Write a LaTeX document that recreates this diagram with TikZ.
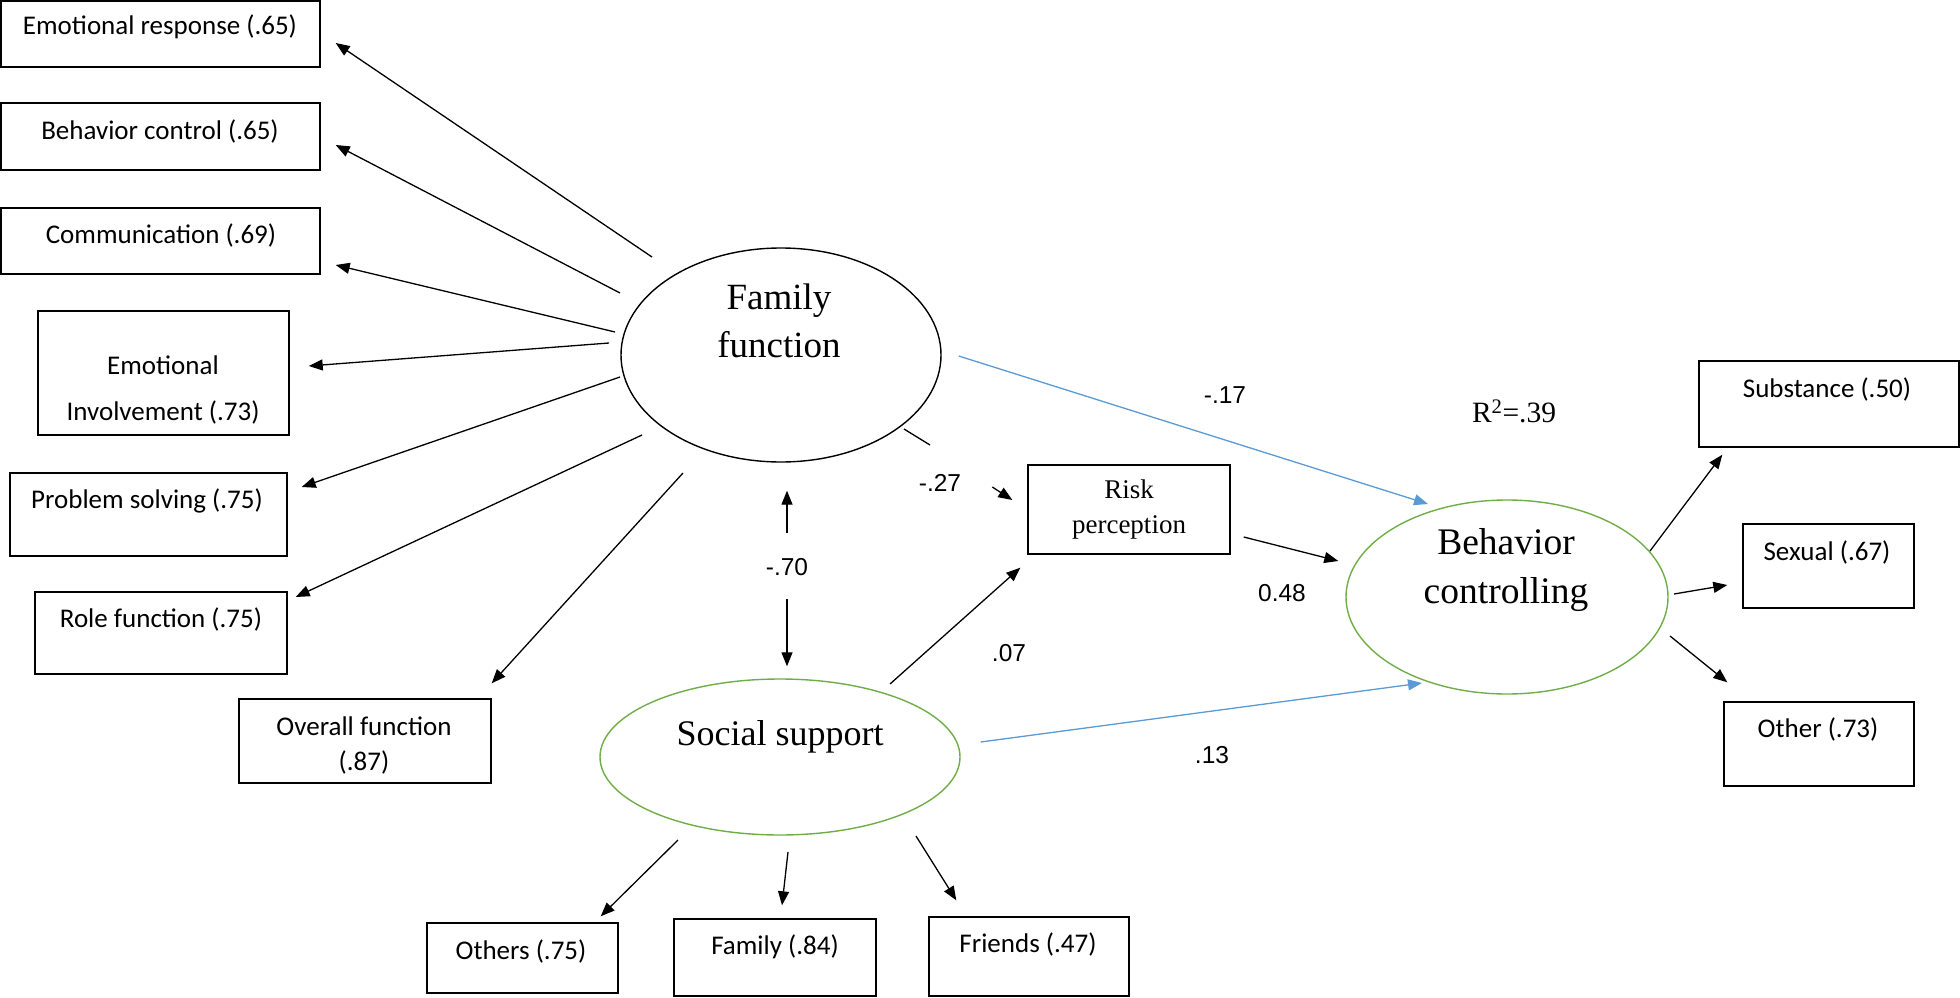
\documentclass[tikz,border=0pt]{standalone}
\usepackage{fontspec}
\setmainfont{Liberation Serif}
\newfontfamily\calfont{Carlito}
\newfontfamily\arifont{Liberation Sans}
\usetikzlibrary{arrows.meta,calc,shapes.geometric}
\definecolor{lgreen}{HTML}{70AD47}
\definecolor{lblue}{HTML}{5B9BD5}
\begin{document}
\begin{tikzpicture}[x=1pt,y=-1pt,
 box/.style={draw, rectangle, inner sep=0pt, line width=1.4pt},
 itxt/.style={font=\calfont\fontsize{27}{35}\selectfont, inner sep=0pt, align=center},
 lat/.style={draw, ellipse, inner sep=0pt, line width=1.4pt},
 glat/.style={lat, draw=lgreen},
 ltxt/.style={font=\fontsize{36}{48}\selectfont, align=center, inner sep=0pt},
 coef/.style={font=\arifont\fontsize{24.5}{28}\selectfont, inner sep=0pt},
 arr/.style={-{Triangle[length=14pt,width=11pt]}, line width=1.3pt},
 barr/.style={arr, draw=lblue, fill=lblue},
 plain/.style={line width=1.3pt},
]
\useasboundingbox (0,0) rectangle (1960,998);

% ---- indicator boxes (Family function) ----
\node[box, minimum width=319pt, minimum height=66pt] (mer) at (160.5,34) {};
\node[itxt] (mer-t) at (160,27) {Emotional response (.65)};
\node[box, minimum width=319pt, minimum height=67pt] (mbc) at (160.5,136.5) {};
\node[itxt] (mbc-t) at (160,131) {Behavior control (.65)};
\node[box, minimum width=319pt, minimum height=66pt] (mcom) at (160.5,241) {};
\node[itxt] (mcom-t) at (161,235) {Communication (.69)};
\node[box, minimum width=251pt, minimum height=124pt] (mei) at (163.5,373) {};
\node[itxt, font=\calfont\fontsize{27}{46}\selectfont] (mei-t) at (163,390) {Emotional\\Involvement (.73)};
\node[box, minimum width=277pt, minimum height=83pt] (mps) at (148.5,514.5) {};
\node[itxt] (mps-t) at (147,501) {Problem solving (.75)};
\node[box, minimum width=252pt, minimum height=82pt] (mrf) at (161,633) {};
\node[itxt] (mrf-t) at (161,619) {Role function (.75)};
\node[box, minimum width=252pt, minimum height=84pt] (mof) at (365,741) {};
\node[itxt] (mof-t) at (364,745.5) {Overall function\\(.87)};

% ---- latent variables ----
\node[lat, minimum width=320pt, minimum height=214pt] (ff) at (781,355) {};
\node[ltxt, font=\fontsize{37}{48}\selectfont] (ff-t) at (779,321) {Family\\function};
\node[glat, minimum width=360pt, minimum height=156pt] (ss) at (780,757) {};
\node[ltxt] (ss-t) at (780,737) {Social support};
\node[glat, minimum width=322pt, minimum height=194pt] (bcl) at (1507,597) {};
\node[ltxt, font=\fontsize{37.5}{49}\selectfont] (bcl-t) at (1506,570) {Behavior\\controlling};
\node[box, minimum width=202pt, minimum height=89pt, font=\fontsize{27}{35}\selectfont, align=center] (risk) at (1129,509.5) {Risk\\perception};
\node[font=\fontsize{29.5}{32}\selectfont, inner sep=0pt] (r2) at (1514,411) {R\textsuperscript{2}=.39};

% ---- outcome boxes ----
\node[box, minimum width=260pt, minimum height=86pt] (msub) at (1829,404) {};
\node[itxt] (msub-t) at (1827,389) {Substance (.50)};
\node[box, minimum width=171pt, minimum height=84pt] (msex) at (1828.5,566) {};
\node[itxt] (msex-t) at (1827,552) {Sexual (.67)};
\node[box, minimum width=190pt, minimum height=84pt] (moth) at (1819,744) {};
\node[itxt] (moth-t) at (1818,729) {Other (.73)};

% ---- social support boxes ----
\node[box, minimum width=191pt, minimum height=70pt] (mothers) at (522.5,958) {};
\node[itxt] (mothers-t) at (521,951) {Others (.75)};
\node[box, minimum width=202pt, minimum height=77pt] (mfam) at (775,957.5) {};
\node[itxt] (mfam-t) at (775,947) {Family (.84)};
\node[box, minimum width=200pt, minimum height=79pt] (mfri) at (1029,956.5) {};
\node[itxt] (mfri-t) at (1028,944) {Friends (.47)};

% ---- loadings of Family function ----
\draw[arr] ($(ff.center)+(-129,-98)$) -- ($(mer.east)+(15,9)$);
\draw[arr] ($(ff.center)+(-161,-62)$) -- ($(mbc.east)+(15,8.5)$);
\draw[arr] ($(ff.center)+(-166,-23)$) -- ($(mcom.east)+(15,24)$);
\draw[arr] ($(ff.center)+(-172,-12)$) -- ($(mei.east)+(19,-7)$);
\draw[arr] ($(ff.center)+(-161,22)$) -- ($(mps.east)+(14,-27.5)$);
\draw[arr] ($(ff.center)+(-139,80)$) -- ($(mrf.east)+(8,-36)$);
\draw[arr] ($(ff.center)+(-98,118)$) -- ($(mof.north east)+(0,-15)$);

% ---- structural paths ----
\draw[plain] ($(ff.center)+(123,74)$) -- ($(ff.center)+(149,90)$);
\draw[arr] ($(risk.west)+(-35,-22.5)$) -- ($(risk.west)+(-15,-9.5)$);
\node[coef] (c27) at (940,483) {-.27};

\draw[arr] ($(ff.south)+(6,70)$) -- ($(ff.south)+(6,28)$);
\draw[arr] ($(ss.north)+(7,-79)$) -- ($(ss.north)+(7,-12)$);
\node[coef] (c70) at (787,567) {-.70};

\draw[arr] ($(ss.center)+(110,-73)$) -- ($(risk.south west)+(-7,13)$);
\node[coef] (c07) at (1009,653) {.07};

\draw[arr] ($(risk.east)+(13,27.5)$) -- ($(bcl.west)+(-7,-36)$);
\node[coef] (c48) at (1282,593) {0.48};

\draw[barr] ($(ff.east)+(17,1)$) -- ($(bcl.center)+(-79,-93)$);
\node[coef] (c17) at (1225,395) {-.17};

\draw[barr] ($(ss.east)+(20,-15)$) -- ($(bcl.center)+(-85,86)$);
\node[coef] (c13) at (1212,755) {.13};

% ---- loadings of Behavior controlling ----
\draw[arr] ($(bcl.center)+(143,-46)$) -- ($(msub.south west)+(24,7)$);
\draw[arr] ($(bcl.center)+(167,-3)$) -- ($(msex.west)+(-15,19)$);
\draw[arr] ($(bcl.center)+(163,39)$) -- ($(moth.north west)+(4,-19)$);

% ---- loadings of Social support ----
\draw[arr] ($(ss.center)+(-102,83)$) -- ($(mothers.north east)+(-18,-6)$);
\draw[arr] ($(ss.center)+(8,95)$) -- ($(mfam.north)+(7,-13)$);
\draw[arr] ($(ss.center)+(136,79)$) -- ($(mfri.north west)+(28,-16)$);
\end{tikzpicture}
\end{document}
